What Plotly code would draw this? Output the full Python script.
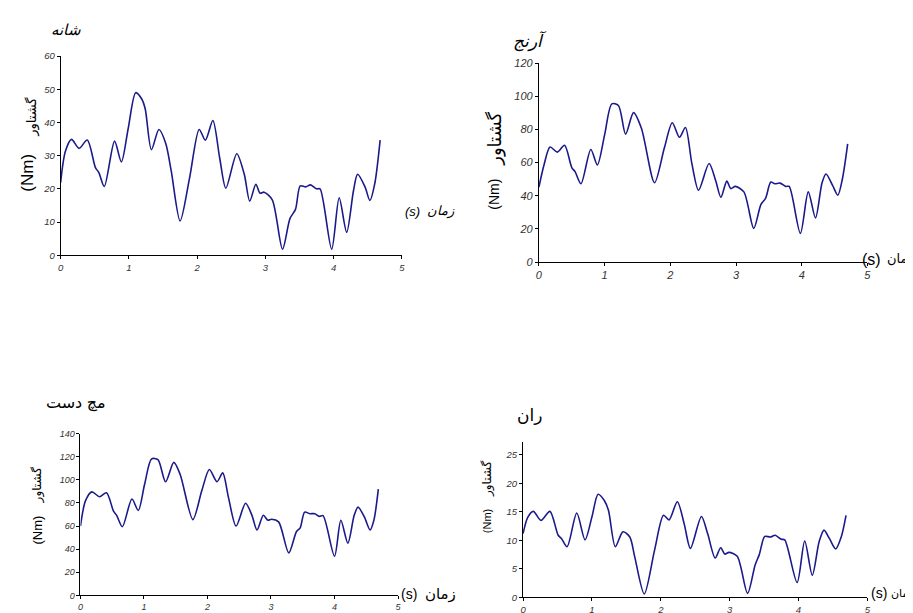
import plotly.graph_objects as go

# ---------------- data ----------------
t_shoulder = [0, 0.07, 0.16, 0.27, 0.39, 0.51, 0.56, 0.64, 0.79, 0.89, 0.99, 1.10, 1.19, 1.24, 1.33,
              1.44, 1.54, 1.62, 1.75, 1.89, 2.03, 2.12, 2.23, 2.33, 2.42, 2.58, 2.69, 2.77, 2.86,
              2.92, 2.98, 3.10, 3.25, 3.36, 3.44, 3.51, 3.59, 3.66, 3.75, 3.80, 3.97, 4.08, 4.19,
              4.29, 4.35, 4.46, 4.53, 4.60, 4.68]
torque_shoulder = [21.9, 31.3, 34.9, 32.2, 34.7, 26.4, 24.9, 20.7, 34.4, 28.1, 38.2, 49.0, 47.0, 44.0, 31.8,
                   37.9, 33.7, 25.4, 10.3, 23.4, 37.9, 34.7, 40.6, 29.3, 20.2, 30.6, 24.4, 16.3, 21.4,
                   18.7, 19.0, 16.7, 1.8, 11.1, 13.8, 20.9, 20.6, 21.2, 20.0, 20.0, 1.8, 17.3, 6.9,
                   19.5, 24.4, 20.5, 16.5, 21.4, 34.7]

t_elbow = [0, 0.08, 0.17, 0.28, 0.39, 0.50, 0.55, 0.64, 0.79, 0.89, 1.00, 1.11, 1.21, 1.32, 1.44,
           1.56, 1.76, 1.91, 2.03, 2.14, 2.23, 2.33, 2.43, 2.59, 2.69, 2.77, 2.86, 2.92, 2.99,
           3.12, 3.27, 3.38, 3.45, 3.53, 3.59, 3.67, 3.76, 3.81, 3.98, 4.10, 4.21, 4.31, 4.37,
           4.47, 4.55, 4.62, 4.70]
torque_elbow = [45.2, 59.0, 69.3, 66.3, 70.4, 57.0, 54.5, 47.2, 67.9, 58.6, 76.7, 95.4, 94.4, 77.1, 90.1,
                80.7, 47.8, 68.9, 84.0, 75.2, 81.1, 59.0, 43.3, 59.4, 49.2, 39.0, 48.8, 44.3, 45.6,
                42.3, 20.3, 34.8, 38.4, 48.2, 47.2, 47.6, 45.6, 45.6, 17.3, 42.3, 26.6, 47.8, 53.1,
                46.2, 40.3, 50.2, 71.2]

t_wrist = [0, 0.08, 0.18, 0.30, 0.41, 0.52, 0.57, 0.66, 0.81, 0.91, 1.01, 1.12, 1.22, 1.34, 1.47,
           1.57, 1.77, 1.91, 2.03, 2.15, 2.24, 2.33, 2.45, 2.60, 2.70, 2.78, 2.88, 2.95, 3.01,
           3.12, 3.28, 3.40, 3.46, 3.53, 3.61, 3.69, 3.76, 3.82, 4.00, 4.10, 4.21, 4.31, 4.37,
           4.47, 4.56, 4.62, 4.69]
torque_wrist = [60.0, 82.0, 89.6, 85.4, 88.8, 73.0, 69.3, 59.4, 83.4, 73.5, 96.2, 118.2, 117.4, 98.4, 115.1,
                104.6, 65.6, 90.5, 108.9, 98.4, 106.0, 84.8, 60.0, 79.8, 69.3, 56.6, 69.3, 65.0, 65.9,
                63.6, 36.8, 55.1, 58.5, 72.1, 70.7, 70.7, 68.4, 69.0, 33.9, 65.0, 45.2, 69.3, 76.4,
                67.9, 56.6, 65.0, 91.9]

t_hip = [0, 0.07, 0.15, 0.26, 0.39, 0.51, 0.56, 0.64, 0.78, 0.90, 1.00, 1.09, 1.18, 1.24, 1.34,
         1.45, 1.55, 1.62, 1.76, 1.91, 2.04, 2.12, 2.24, 2.34, 2.43, 2.59, 2.68, 2.79, 2.87,
         2.93, 2.99, 3.11, 3.26, 3.37, 3.43, 3.51, 3.59, 3.66, 3.75, 3.80, 3.98, 4.09, 4.20,
         4.30, 4.37, 4.45, 4.54, 4.62, 4.69]
torque_hip = [11.2, 14.1, 15.1, 13.5, 15.1, 10.9, 10.3, 8.9, 14.8, 10.1, 14.1, 18.1, 17.0, 15.3, 8.9,
              11.5, 10.6, 7.2, 0.6, 8.3, 14.4, 13.6, 16.8, 12.9, 8.6, 14.2, 11.2, 6.9, 8.7,
              7.6, 7.9, 7.2, 0.7, 5.7, 7.5, 10.7, 10.6, 10.9, 10.2, 10.1, 2.6, 9.9, 3.9,
              9.8, 11.8, 10.3, 8.5, 10.6, 14.4]

x_ticks = [0, 1, 2, 3, 4, 5]
y_ticks_shoulder = [0, 10, 20, 30, 40, 50, 60]
y_ticks_elbow = [0, 20, 40, 60, 80, 100, 120]
y_ticks_wrist = [0, 20, 40, 60, 80, 100, 120, 140]
y_ticks_hip = [0, 5, 10, 15, 20, 25]

titles = ["شانه", "آرنج", "مچ دست", "ران"]
y_label_arabic = "گشتاور"
y_label_unit = "(Nm)"
x_label_arabic = "زمان"
x_label_unit = "(s)"

# ---------------- figure ----------------
W, H = 913, 613
LINE = "#1a1a8a"
FONT = "Liberation Sans, Arial, DejaVu Sans, sans-serif"

def px(x):
    return x / W

def py(y):
    return 1 - y / H

fig = go.Figure()

panels = [
    # (t, v, x0px, x1px, y0px(bottom), y1px(top), yrange, yticks, tickfont size)
    (t_shoulder, torque_shoulder, 50, 394, 246, 43, [0, 60], y_ticks_shoulder, 9.5),
    (t_elbow, torque_elbow, 532, 863, 253, 50, [0, 120], y_ticks_elbow, 11),
    (t_wrist, torque_wrist, 70, 390, 593, 428, [0, 140], y_ticks_wrist, 9),
    (t_hip, torque_hip, 516, 863, 595, 437, [0, 27.2], y_ticks_hip, 9.5),
]

for i, (t, v, x0, x1, yb, yt, yr, yt_vals, fs) in enumerate(panels):
    n = "" if i == 0 else str(i + 1)
    fig.add_trace(go.Scatter(
        x=t, y=v, mode="lines", xaxis="x" + n, yaxis="y" + n,
        line=dict(color=LINE, width=1.6, shape="spline", smoothing=0.8),
        showlegend=False, hoverinfo="skip"))
    tf = dict(family=FONT, size=fs, color="#333333", style="italic")
    fig.layout["xaxis" + n] = dict(
        domain=[px(x0), px(x1)], range=[0, 5], anchor="y" + n,
        tickvals=x_ticks, ticks="outside", ticklen=3, tickcolor="black",
        showline=True, linecolor="black", linewidth=1,
        showgrid=False, zeroline=False, tickfont=tf, fixedrange=True)
    fig.layout["yaxis" + n] = dict(
        domain=[py(yb), py(yt)], range=yr, anchor="x" + n,
        tickvals=yt_vals, ticks="outside", ticklen=3, tickcolor="black",
        showline=True, linecolor="black", linewidth=1,
        showgrid=False, zeroline=False, tickfont=tf, fixedrange=True)

annotations = []

def ann(text, x, y, size, italic=False, angle=0, xanchor="center"):
    annotations.append(dict(
        text=text, x=px(x), y=py(y), xref="paper", yref="paper",
        showarrow=False, textangle=angle, xanchor=xanchor, yanchor="middle",
        font=dict(family=FONT, size=size, color="black",
                  style="italic" if italic else "normal")))

# titles
ann(titles[0], 55, 16, 15, italic=True)
ann(titles[1], 523, 28, 17, italic=True)
ann(titles[2], 65, 397, 16)
ann(titles[3], 523, 410, 17)

# y-axis labels
ann(y_label_unit, 17, 162, 17, angle=-90)
ann(y_label_arabic, 21, 105, 13, angle=-90)
ann(y_label_unit, 487, 184, 14, angle=-90)
ann(y_label_arabic, 487, 127, 18, angle=-90)
ann(y_label_unit, 27, 526, 13, angle=-90)
ann(y_label_arabic, 27, 480, 12, angle=-90)
ann(y_label_unit, 480, 517, 11, angle=-90)
ann(y_label_arabic, 480, 474, 12, angle=-90)

# x-axis labels ("(s)" on the left, "زمان" on the right)
ann(x_label_unit, 405, 201, 13, italic=True)
ann(x_label_arabic, 433, 201, 13, italic=True)
ann(x_label_unit, 867, 250, 16)
ann(x_label_arabic, 912, 250, 13, xanchor="right")
ann(x_label_unit, 401, 592, 14)
ann(x_label_arabic, 433, 592, 15)
ann(x_label_unit, 875, 591, 14)
ann(x_label_arabic, 912, 591, 11, xanchor="right")

fig.update_layout(
    width=W, height=H, margin=dict(l=0, r=0, t=0, b=0),
    paper_bgcolor="white", plot_bgcolor="white",
    annotations=annotations, showlegend=False,
    font=dict(family=FONT))

fig.write_html("out.html")
